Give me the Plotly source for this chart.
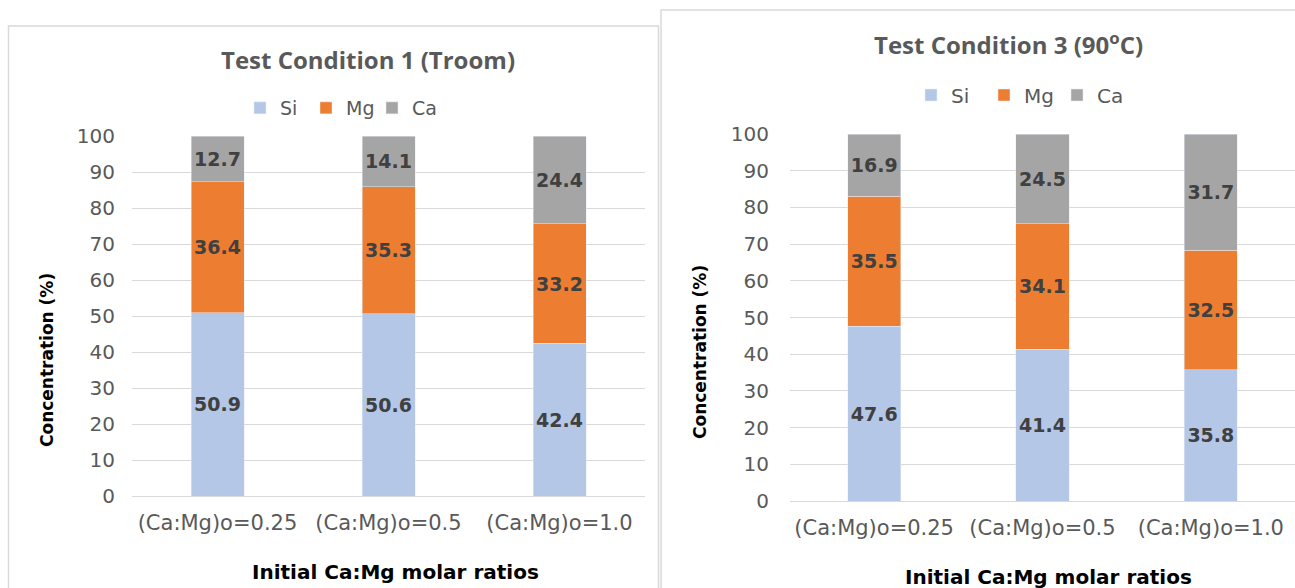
import plotly.graph_objects as go

categories = ["(Ca:Mg)o=0.25", "(Ca:Mg)o=0.5", "(Ca:Mg)o=1.0"]
series_names = ["Si", "Mg", "Ca"]

# Test Condition 1 (Troom)
tc1_si = [50.9, 50.6, 42.4]
tc1_mg = [36.4, 35.3, 33.2]
tc1_ca = [12.7, 14.1, 24.4]

# Test Condition 3 (90 C)
tc3_si = [47.6, 41.4, 35.8]
tc3_mg = [35.5, 34.1, 32.5]
tc3_ca = [16.9, 24.5, 31.7]

y_ticks = [0, 10, 20, 30, 40, 50, 60, 70, 80, 90, 100]

colors = {"Si": "#B4C7E7", "Mg": "#ED7D31", "Ca": "#A5A5A5"}

W, H = 1295, 588
def px(x):
    return x / W
def py(y):
    return 1 - y / H

fig = go.Figure()

label_font = dict(family="DejaVu Sans", size=19, color="#404040")

for name, vals in zip(series_names, [tc1_si, tc1_mg, tc1_ca]):
    fig.add_trace(go.Bar(
        x=categories, y=vals, name=name, marker_color=colors[name],
        width=0.31, xaxis="x", yaxis="y", legend="legend",
        text=[f"<b>{v:.1f}</b>" for v in vals], textposition="inside",
        insidetextanchor="middle", textangle=0, textfont=label_font,
        constraintext="none", hoverinfo="skip",
    ))

for name, vals in zip(series_names, [tc3_si, tc3_mg, tc3_ca]):
    fig.add_trace(go.Bar(
        x=categories, y=vals, name=name, marker_color=colors[name],
        width=0.315, xaxis="x2", yaxis="y2", legend="legend2",
        text=[f"<b>{v:.1f}</b>" for v in vals], textposition="inside",
        insidetextanchor="middle", textangle=0, textfont=label_font,
        constraintext="none", hoverinfo="skip",
    ))

cat_font = dict(family="DejaVu Sans", size=21, color="#595959")
ytick_font = dict(family="DejaVu Sans", size=20, color="#595959")

axis_common_x = dict(
    type="category", showgrid=False, showline=False, zeroline=False,
    ticks="", tickfont=cat_font, tickangle=0, ticklabelstandoff=12,
    fixedrange=True, automargin=False,
)
axis_common_y = dict(
    range=[0, 100], tickvals=y_ticks, showgrid=True, gridcolor="#D9D9D9",
    gridwidth=1, zeroline=True, zerolinecolor="#D9D9D9", zerolinewidth=1,
    showline=False, ticks="", tickfont=ytick_font, fixedrange=True,
    automargin=False,
)

legend_common = dict(
    orientation="h", xanchor="left", yanchor="middle", traceorder="normal",
    bgcolor="rgba(0,0,0,0)", itemclick=False, itemdoubleclick=False,
    tracegroupgap=0, itemwidth=30, entrywidthmode="pixels",
)

fig.update_layout(
    width=W, height=H, autosize=False,
    margin=dict(l=0, r=0, t=0, b=0, autoexpand=False),
    paper_bgcolor="white", plot_bgcolor="white",
    barmode="stack", showlegend=True,
    xaxis=dict(domain=[px(132), px(645)], anchor="y", **axis_common_x),
    yaxis=dict(domain=[py(496), py(136)], anchor="x", ticklabelstandoff=16,
               **axis_common_y),
    xaxis2=dict(domain=[px(790), 1.0], anchor="y2", **axis_common_x),
    yaxis2=dict(domain=[py(501), py(134)], anchor="x2", ticklabelstandoff=20,
                **axis_common_y),
    legend=dict(x=px(240), y=py(108), entrywidth=21,
                font=dict(family="DejaVu Sans", size=19, color="#595959"),
                **legend_common),
    legend2=dict(x=px(911), y=py(95), entrywidth=28,
                 font=dict(family="DejaVu Sans", size=20, color="#595959"),
                 **legend_common),
    shapes=[
        dict(type="rect", xref="paper", yref="paper",
             x0=px(8.5), x1=px(658.5), y0=py(600), y1=py(26),
             line=dict(color="#D9D9D9", width=1.5), fillcolor="rgba(0,0,0,0)",
             layer="below"),
        dict(type="rect", xref="paper", yref="paper",
             x0=px(661), x1=px(1310), y0=py(600), y1=py(10),
             line=dict(color="#D9D9D9", width=1.5), fillcolor="rgba(0,0,0,0)",
             layer="below"),
    ],
    annotations=[
        dict(text="<b>Test Condition 1 (Troom)</b>", xref="paper", yref="paper",
             x=px(368), y=py(59), showarrow=False, xanchor="center", yanchor="middle",
             font=dict(family="Open Sans", size=24, color="#595959")),
        dict(text="<b>Test Condition 3 (90<sup>o</sup>C)</b>", xref="paper", yref="paper",
             x=px(1008), y=py(44), showarrow=False, xanchor="center", yanchor="middle",
             font=dict(family="Open Sans", size=24, color="#595959")),
        dict(text="<b>Concentration (%)</b>", xref="paper", yref="paper",
             x=px(47), y=py(360), showarrow=False, textangle=-90,
             xanchor="center", yanchor="middle",
             font=dict(family="DejaVu Sans", size=17, color="black")),
        dict(text="<b>Concentration (%)</b>", xref="paper", yref="paper",
             x=px(700), y=py(352), showarrow=False, textangle=-90,
             xanchor="center", yanchor="middle",
             font=dict(family="DejaVu Sans", size=17, color="black")),
        dict(text="<b>Initial Ca:Mg molar ratios</b>", xref="paper", yref="paper",
             x=px(396), y=py(572), showarrow=False, xanchor="center", yanchor="middle",
             font=dict(family="DejaVu Sans", size=20, color="black")),
        dict(text="<b>Initial Ca:Mg molar ratios</b>", xref="paper", yref="paper",
             x=px(1048), y=py(577), showarrow=False, xanchor="center", yanchor="middle",
             font=dict(family="DejaVu Sans", size=20, color="black")),
    ],
)

fig.write_html(
    "out.html",
    config={"displayModeBar": False},
    post_script="document.body.style.margin='0';document.body.style.overflow='hidden';",
)
